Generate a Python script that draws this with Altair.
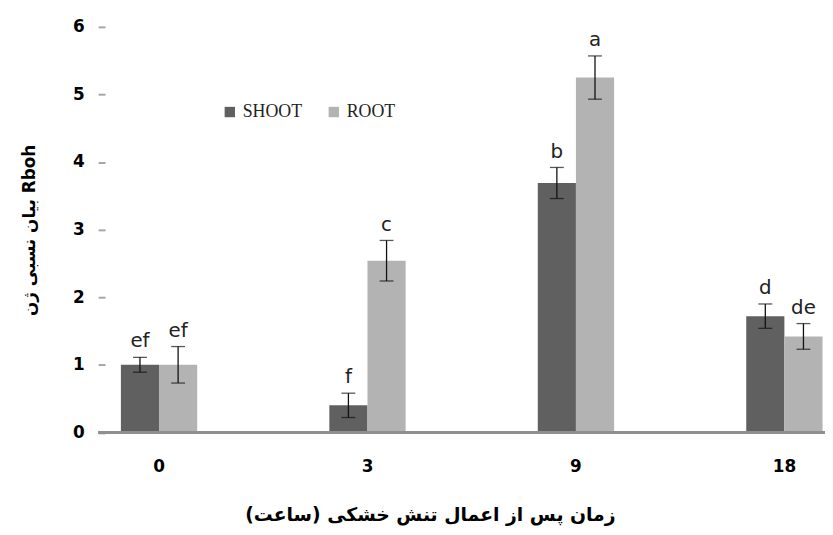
import altair as alt
import pandas as pd

hours = ["0", "3", "9", "18"]
tissues = ["SHOOT", "ROOT"]
colors = ["#606060", "#b3b3b3"]
shoot = [1.00, 0.40, 3.69, 1.72]
root = [1.00, 2.54, 5.25, 1.42]
shoot_err = [0.11, 0.18, 0.23, 0.18]
root_err = [0.27, 0.30, 0.32, 0.19]
shoot_letters = ["ef", "f", "b", "d"]
root_letters = ["ef", "c", "a", "de"]

rows = []
for i, h in enumerate(hours):
    rows.append(dict(hour=h, tissue="SHOOT", value=shoot[i], err=shoot_err[i], letter=shoot_letters[i]))
    rows.append(dict(hour=h, tissue="ROOT", value=root[i], err=root_err[i], letter=root_letters[i]))
df = pd.DataFrame(rows)
df["lo"] = df["value"] - df["err"]
df["hi"] = df["value"] + df["err"]

W = 727
H = 409.5
FONT = "DejaVu Sans"

x = alt.X(
    "hour:N",
    sort=hours,
    scale=alt.Scale(range=[0, 740.5], paddingInner=0.634, paddingOuter=0.076),
    axis=alt.Axis(
        title="زمان پس از اعمال تنش خشکی (ساعت)",
        labelAngle=0, ticks=False, domain=False, labelPadding=27,
        labelFont=FONT, labelFontWeight="bold", labelFontSize=17, labelColor="black",
        titleFont=FONT, titleFontWeight="bold", titleFontSize=19, titleColor="black",
        titleX=328, titleY=83, titleBaseline="middle", titleAlign="center",
    ),
)
xo = alt.XOffset("tissue:N", sort=tissues)
y_axis = alt.Axis(
    values=[0, 1, 2, 3, 4, 5, 6], format="d", title="بیان نسبی ژن Rboh",
    domain=False, grid=False, tickColor="#a6a6a6", tickSize=7, tickWidth=2,
    labelPadding=14, labelFont=FONT, labelFontWeight="bold", labelFontSize=17, labelColor="black",
    titleFont=FONT, titleFontWeight="bold", titleFontSize=17, titleColor="black",
    titleX=-76, titleY=205, titleAngle=270, titleAlign="center", titleBaseline="middle",
)
yscale = alt.Scale(domain=[0, 6], nice=False)

base = alt.Chart(df)

bars = base.mark_bar().encode(
    x=x, xOffset=xo,
    y=alt.Y("value:Q", scale=yscale, axis=y_axis),
    color=alt.Color(
        "tissue:N", sort=tissues,
        scale=alt.Scale(domain=tissues, range=colors),
        legend=alt.Legend(
            title=None, orient="none", legendX=117, legendY=77, direction="horizontal",
            symbolType="square", symbolSize=110, symbolStrokeWidth=0, padding=0,
            labelFont="Liberation Serif", labelFontSize=18, labelColor="#222",
            columnPadding=22, labelOffset=4,
        ),
    ),
)

stems = base.mark_rule(color="#111", strokeWidth=1.3).encode(
    x=x, xOffset=xo, y=alt.Y("lo:Q", scale=yscale), y2="hi:Q"
)
cap_hi = base.mark_tick(color="#111", size=14, thickness=1.3).encode(
    x=x, xOffset=xo, y=alt.Y("hi:Q", scale=yscale)
)
cap_lo = base.mark_tick(color="#111", size=14, thickness=1.3).encode(
    x=x, xOffset=xo, y=alt.Y("lo:Q", scale=yscale)
)
letters = base.mark_text(
    dy=-10, baseline="alphabetic", fontSize=20, font=FONT, color="#222"
).encode(x=x, xOffset=xo, y=alt.Y("hi:Q", scale=yscale), text="letter:N")

baseline = alt.Chart(pd.DataFrame({"z": [0]})).mark_rule(
    color="#8f8f8f", strokeWidth=3
).encode(y=alt.Y("z:Q", scale=yscale), x=alt.value(-7), x2=alt.value(W))

chart = alt.layer(bars, stems, cap_hi, cap_lo, letters, baseline).properties(
    width=W, height=H,
    autosize=alt.AutoSizeParams(type="none"),
    padding={"left": 98, "top": 16.5, "right": 0, "bottom": 94},
).configure_view(stroke=None)

chart.save("out.html", embed_options={"renderer": "svg", "actions": False})
